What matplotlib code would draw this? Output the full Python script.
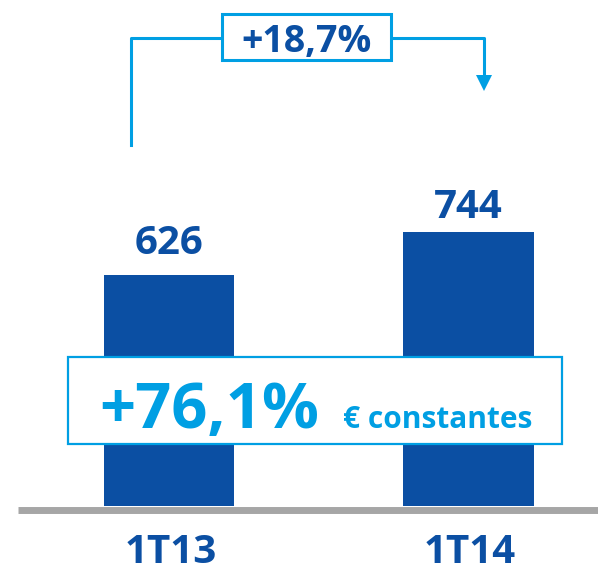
import matplotlib
matplotlib.use("Agg")
import matplotlib.pyplot as plt
from matplotlib.patches import Rectangle, Polygon
from matplotlib.transforms import blended_transform_factory

periods = ["1T13", "1T14"]
values = [626, 744]
growth_label = "+18,7%"
const_growth_label = "+76,1%"
const_note = "€ constantes"

dark_blue = "#0B4FA3"
light_blue = "#009FE3"
grey = "#A6A6A6"

plt.rcParams['font.family'] = ['Open Sans', 'DejaVu Sans']

W, H = 598, 574
fig = plt.figure(figsize=(W / 100, H / 100), dpi=100)

# bar axes: y=0 sits on pixel row 506, bars centred at px 169 and 468
base_px = 506
ax = fig.add_axes([0, (H - base_px) / H, 1, base_px / H])
px_per_cat = 299.5
ax.set_xlim(-169 / px_per_cat, (W - 169) / px_per_cat)
ax.set_ylim(0, base_px / 0.3685)
x = list(range(len(periods)))
ax.bar(x, values, width=130 / px_per_cat, color=dark_blue)
ax.axis("off")

# overlay in pixel coordinates for the decorations
ov = fig.add_axes([0, 0, 1, 1], zorder=5)
ov.set_xlim(0, W)
ov.set_ylim(H, 0)
ov.axis("off")
ov.patch.set_alpha(0)

# value labels above bars
gaps = [21, 14]
for xi, v, g in zip(x, values, gaps):
    ax.annotate(str(v), (xi, v), xytext=(0, g * 0.72), textcoords="offset points",
                ha="center", va="baseline", fontsize=29, fontweight="bold",
                color=dark_blue)

# category labels below baseline
tr = blended_transform_factory(ax.transData, ov.transData)
for xi, p in zip(x, periods):
    ax.text(xi + 0.005, 563, p, transform=tr, ha="center", va="baseline",
            fontsize=29, fontweight="bold", color=dark_blue)

# grey baseline
ov.plot([18, W], [509.5, 509.5], color=grey, lw=5, solid_capstyle="butt")

# growth bracket on top
lw = 2.2
ov.plot([131, 131, 221], [145, 38, 38], color=light_blue, lw=lw)
ov.plot([392, 484, 484], [38, 38, 77], color=light_blue, lw=lw)
ov.add_patch(Polygon([[476, 75], [492, 75], [484, 91]], closed=True,
                     color=light_blue, lw=0))
ov.add_patch(Rectangle((222, 14), 169, 46, fill=False, edgecolor=light_blue, lw=lw))
ov.text(306.5, 52, growth_label, ha="center", va="baseline",
        fontsize=27, fontweight="bold", color=dark_blue)

# constant currency box over the bars
ov.add_patch(Rectangle((68, 357), 494, 87, facecolor="white",
                       edgecolor=light_blue, lw=1.6))
ov.text(99, 428, const_growth_label, ha="left", va="baseline",
        fontsize=45.5, fontweight="bold", color=light_blue)
ov.text(532, 428, const_note, ha="right", va="baseline",
        fontsize=21.5, fontweight="bold", color=light_blue)

fig.savefig("out.png", dpi=100)
